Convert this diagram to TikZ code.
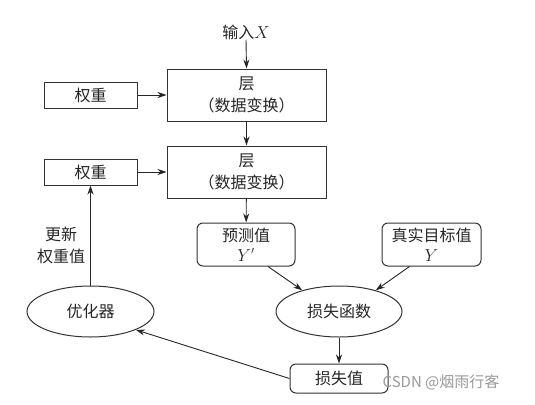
\documentclass[tikz,border=0pt]{standalone}
\usepackage{fontspec}
\setmainfont{Noto Sans CJK SC}
\usetikzlibrary{arrows.meta,shapes.geometric}
\begin{document}
\begin{tikzpicture}[x=1pt,y=-1pt,
  every node/.style={font=\fontsize{16}{22}\selectfont, text=black!85, align=center, inner sep=2pt},
  box/.style={draw=black!80, line width=1pt, rectangle},
  rbox/.style={box, rounded corners=6pt},
  oval/.style={draw=black!80, line width=1pt, ellipse, inner sep=0pt},
  arr/.style={draw=black!85, line width=0.9pt, -{Stealth[length=9pt,width=6pt]}},
  ln/.style={draw=black!85, line width=0.9pt}]
\path[use as bounding box] (0,0) rectangle (535,404);
\node (in) at (246,32) {输入$X$};
\node[box, minimum width=159pt, minimum height=52pt] (L1) at (246.5,95) {层\\（数据变换）};
\node[box, minimum width=93pt, minimum height=26pt] (W1) at (90.5,95) {权重};
\node[box, minimum width=159pt, minimum height=52pt] (L2) at (246.5,172) {层\\（数据变换）};
\node[box, minimum width=93pt, minimum height=26pt] (W2) at (90.5,172) {权重};
\node[rbox, minimum width=98pt, minimum height=43pt] (P) at (246,244.5) {预测值\\[-2pt]$Y'$};
\node[rbox, minimum width=99pt, minimum height=43pt] (T) at (431.5,244.5) {真实目标值\\[-2pt]$Y$};
\node[oval, minimum width=126pt, minimum height=51pt] (LF) at (339,311.5) {损失函数};
\node[oval, minimum width=127pt, minimum height=51pt] (O) at (90.5,311.5) {优化器};
\node[rbox, minimum width=98pt, minimum height=29pt] (LV) at (339,378.5) {损失值};
\node (lab) at (61,245) {更新\\权重值};
\node[font=\fontsize{15}{18}\selectfont, text=black!40] (wm) at (441,382) {CSDN @烟雨行客};
\draw[arr] (in.south) ++(0,-2) -- (L1.north);
\draw[arr] (W1) -- (L1);
\draw[arr] (W2) -- (L2);
\draw[arr] (L1) -- (L2);
\draw[arr] (L2) -- (P);
\draw[arr] (P.-45) -- (LF.150);
\draw[arr] (T.-135) -- (LF.30);
\draw[arr] (LF) -- (LV);
\draw[arr] (LV.west) -- (O.-22);
\draw[arr] (O.north) -- (W2.south);
\end{tikzpicture}
\end{document}
